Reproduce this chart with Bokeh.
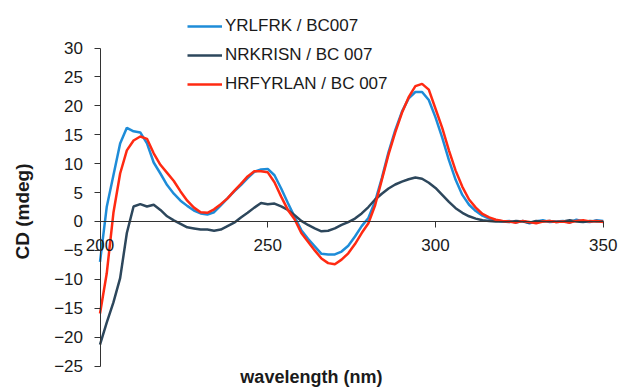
import numpy as np
from bokeh.plotting import figure
from bokeh.models import (FixedTicker, Range1d, Label, Legend, LegendItem)
from bokeh.embed import file_html
from bokeh.resources import INLINE

wavelength = [200, 202, 204, 206, 208, 210, 212, 214, 216, 218, 220, 222, 224, 226, 228,
              230, 232, 234, 236, 238, 240, 242, 244, 246, 248, 250, 252, 254, 256, 258,
              260, 262, 264, 266, 268, 270, 272, 274, 276, 278, 280, 282, 284, 286, 288,
              290, 292, 294, 296, 298, 300, 302, 304, 306, 308, 310, 312, 314, 316, 318,
              320, 322, 324, 326, 328, 330, 332, 334, 336, 338, 340, 342, 344, 346, 348, 350]

yrlfrk = [-7.0, 2.5, 8.0, 13.5, 16.2, 15.6, 15.4, 13.5, 10.2, 8.3, 6.3, 4.8, 3.6, 2.7, 1.9,
          1.4, 1.2, 1.6, 2.8, 4.0, 5.2, 6.3, 7.5, 8.6, 9.0, 9.1, 8.0, 5.7, 3.2, 0.8,
          -1.5, -3.0, -4.3, -5.6, -5.7, -5.7, -5.2, -4.2, -2.6, -0.8, 0.6, 3.5, 7.5, 12.0, 15.8,
          19.0, 21.3, 22.4, 22.4, 21.0, 18.0, 14.5, 10.6, 7.2, 4.6, 2.9, 1.8, 1.0, 0.5, 0.2,
          0.0, 0.1, -0.2, 0.1, -0.3, 0.0, 0.2, -0.1, 0.0, 0.1, -0.2, 0.3, 0.0, -0.1, 0.2, 0.1]

nrkrisn = [-21.3, -17.5, -14.0, -9.8, -2.0, 2.6, 3.0, 2.6, 2.9, 2.0, 0.9, 0.2, -0.4, -1.0, -1.2,
           -1.4, -1.4, -1.6, -1.4, -0.8, -0.2, 0.7, 1.5, 2.4, 3.2, 3.0, 3.1, 2.6, 2.0, 1.1,
           0.1, -0.6, -1.2, -1.7, -1.6, -1.2, -0.6, -0.1, 0.5, 1.4, 2.5, 3.8, 4.8, 5.7, 6.4,
           6.9, 7.3, 7.6, 7.4, 6.7, 5.8, 4.6, 3.4, 2.3, 1.5, 0.9, 0.5, 0.2, 0.1, 0.0,
           0.0, -0.1, 0.1, 0.0, -0.2, 0.1, 0.0, 0.1, -0.1, 0.0, 0.2, 0.0, -0.1, 0.1, 0.0, 0.0]

hrfyrlan = [-15.9, -9.0, 1.5, 8.3, 12.3, 14.0, 14.7, 14.3, 11.8, 9.8, 8.4, 7.0, 5.2, 3.6, 2.4,
            1.6, 1.5, 2.1, 3.0, 4.0, 5.3, 6.5, 7.8, 8.7, 8.7, 8.5, 6.8, 4.3, 2.0, 0.4,
            -2.0, -3.5, -5.0, -6.4, -7.2, -7.4, -6.6, -5.5, -3.9, -2.0, -0.3, 2.8, 7.2, 11.6, 15.4,
            18.8, 21.5, 23.4, 23.8, 22.8, 19.5, 16.2, 12.3, 8.8, 6.0, 3.8, 2.4, 1.3, 0.7, 0.3,
            0.1, 0.0, -0.2, 0.1, -0.1, -0.3, 0.0, 0.1, -0.1, 0.0, -0.2, 0.1, 0.2, 0.0, 0.1, -0.1]

series_names = ["YRLFRK / BC007", "NRKRISN / BC 007", "HRFYRLAN / BC 007"]
series_colors = ["#1e8cd8", "#2d475c", "#ff2a12"]
x_ticks = [200, 250, 300, 350]
y_ticks = [-25, -20, -15, -10, -5, 0, 5, 10, 15, 20, 25, 30]
x_title = "wavelength (nm)"
y_title = "CD (mdeg)"

FONT = "Liberation Sans"
W, H = 620, 390

p = figure(width=W, height=H, output_backend="svg", toolbar_location=None,
           x_range=Range1d(170.34, 355.14), y_range=Range1d(-29.23, 38.22),
           min_border=0, min_border_left=0, min_border_right=0,
           min_border_top=0, min_border_bottom=0)
p.outline_line_color = None
p.xgrid.visible = False
p.ygrid.visible = False
p.background_fill_color = "white"
p.border_fill_color = "white"

renderers = []
for ys, col in zip([yrlfrk, nrkrisn, hrfyrlan], series_colors):
    r = p.line(wavelength, ys, line_color=col, line_width=2.5)
    renderers.append(r)

legend = Legend(items=[LegendItem(label=n, renderers=[r]) for n, r in zip(series_names, renderers)],
                location=(187, 296))
legend.padding = 0
legend.margin = 0
legend.spacing = 9
legend.glyph_width = 35
legend.glyph_height = 20
legend.label_height = 20
legend.label_standoff = 3
legend.border_line_color = None
legend.background_fill_alpha = 0
legend.label_text_font = FONT
legend.label_text_font_size = "17px"
legend.label_text_color = "#1a1a1a"
p.add_layout(legend)

xa = p.xaxis[0]
xa.fixed_location = 0
xa.ticker = FixedTicker(ticks=x_ticks)
xa.bounds = (200, 350)
xa.major_tick_in = 0
xa.major_tick_out = 6
xa.minor_tick_line_color = None
xa.major_label_standoff = 12
xa.major_label_text_font = FONT
xa.major_label_text_font_size = "17px"
xa.major_label_text_color = "#1a1a1a"
xa.axis_line_color = "#333333"
xa.major_tick_line_color = "#333333"

ya = p.yaxis[0]
ya.fixed_location = 200
ya.ticker = FixedTicker(ticks=y_ticks)
ya.bounds = (-25, 30)
ya.major_tick_in = 0
ya.major_tick_out = 6
ya.minor_tick_line_color = None
ya.major_label_standoff = 11
ya.major_label_text_font = FONT
ya.major_label_text_font_size = "17px"
ya.major_label_text_color = "#1a1a1a"
ya.axis_line_color = "#333333"
ya.major_tick_line_color = "#333333"

p.add_layout(Label(x=176.75, y=1.73, text=y_title, angle=np.pi / 2,
                   text_align="center", text_baseline="middle",
                   text_font=FONT, text_font_size="19px", text_font_style="bold",
                   text_color="#1a1a1a"))
p.add_layout(Label(x=263.0, y=-26.9, text=x_title,
                   text_align="center", text_baseline="middle",
                   text_font=FONT, text_font_size="18px", text_font_style="bold",
                   text_color="#1a1a1a"))

open("out.html", "w").write(file_html(p, INLINE))
